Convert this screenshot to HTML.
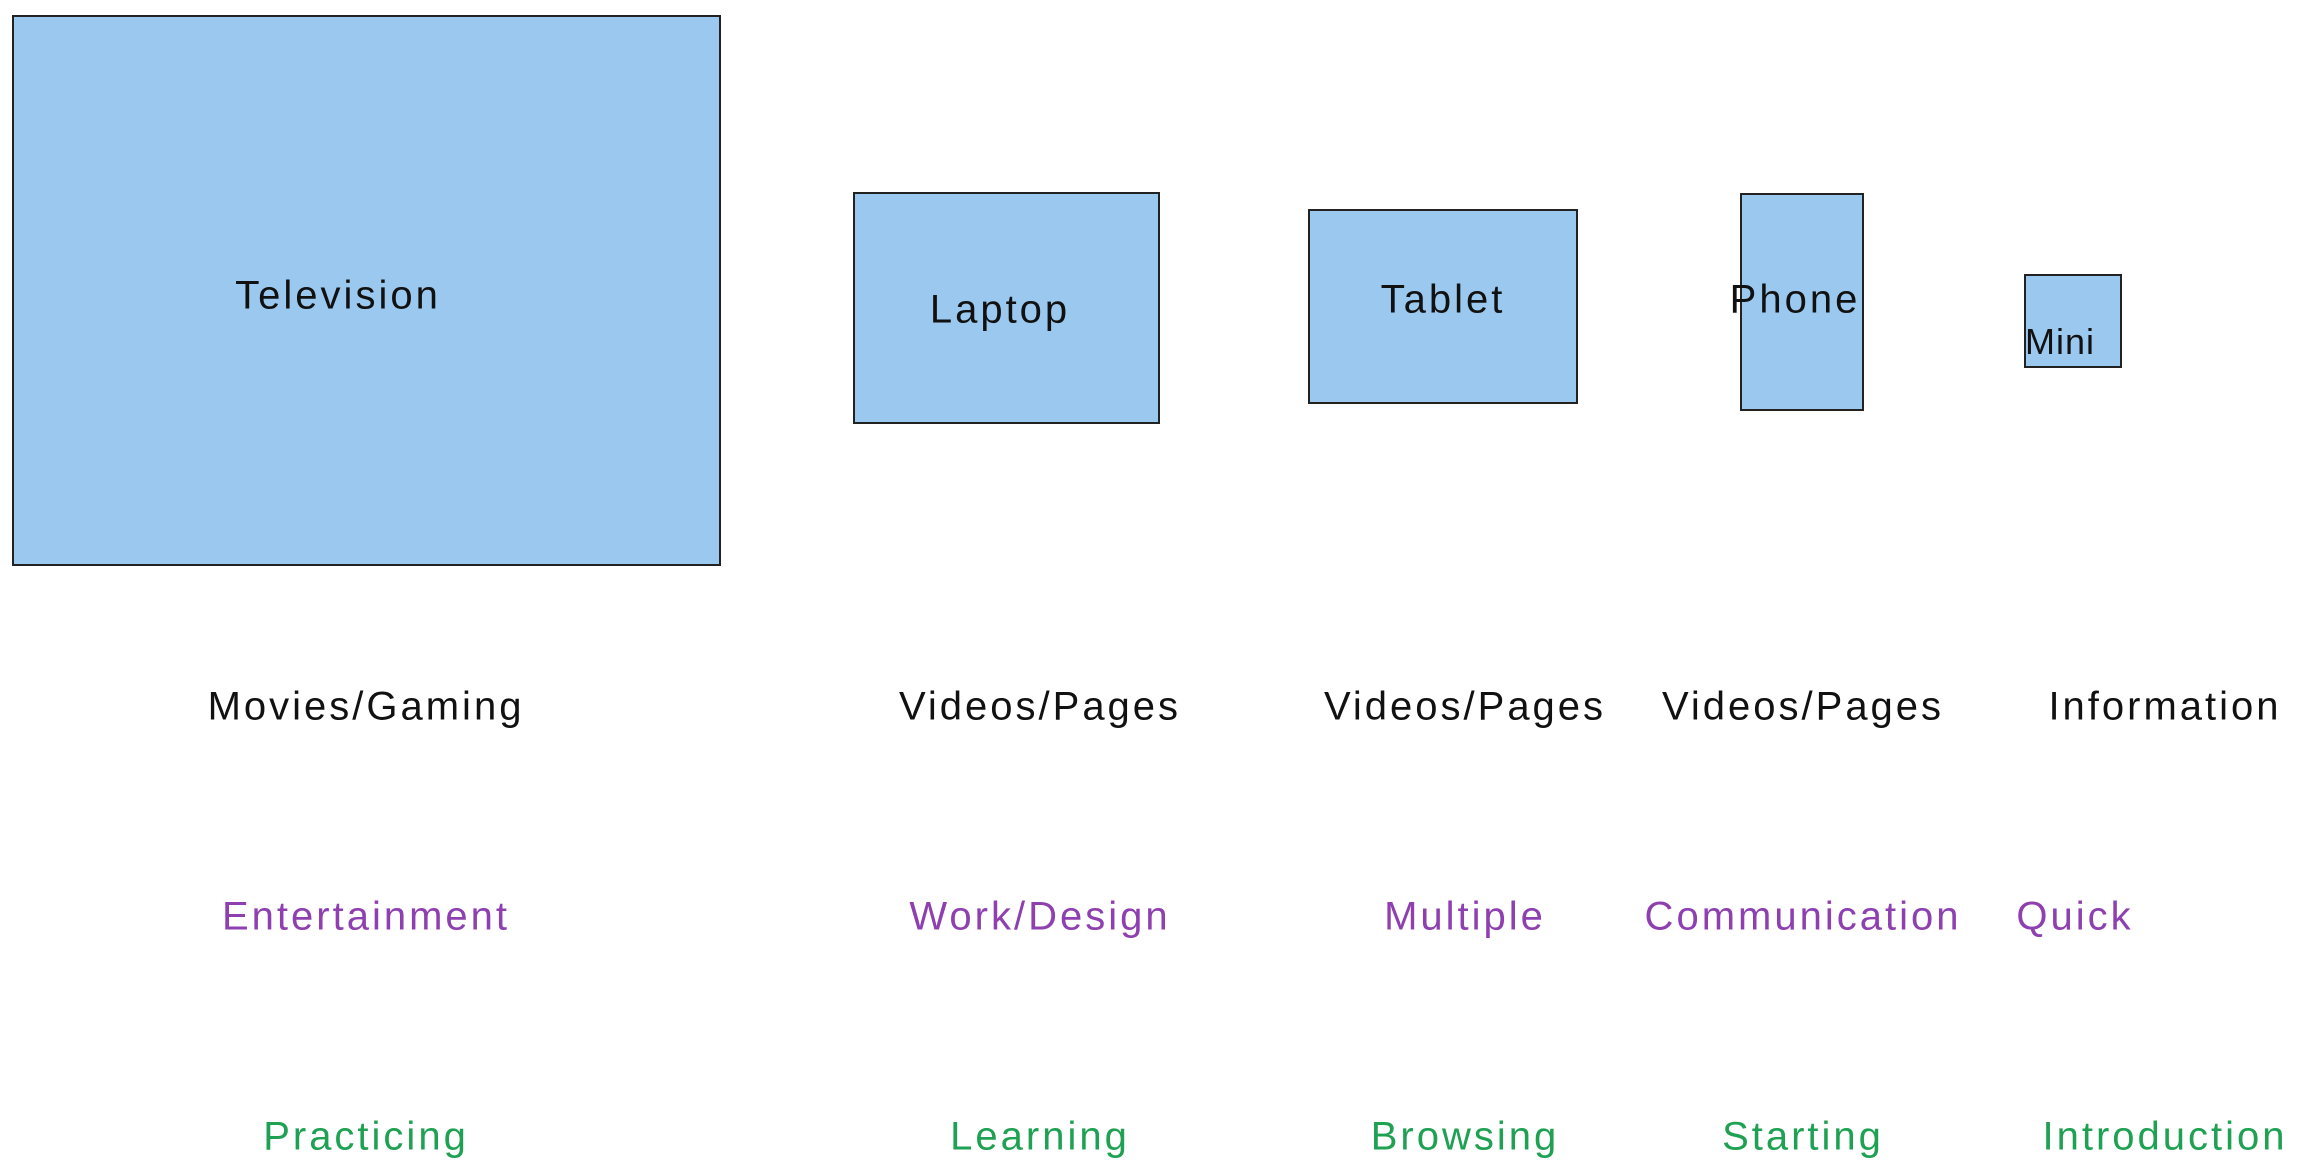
<!DOCTYPE html>
<html><head><meta charset="utf-8"><style>
body{margin:0;width:2313px;height:1156px;background:#fff;position:relative;overflow:hidden;font-family:"Liberation Sans",sans-serif;}
.b{position:absolute;background:#9bc8ee;border:2px solid #222;box-sizing:border-box;}
.t{position:absolute;font-size:40px;letter-spacing:3px;white-space:nowrap;transform:translate(-50%,-50%);color:#111;}
.p{color:#8e3fb0}.g{color:#1ea152}
</style></head><body>
<div class="b" style="left:12px;top:15px;width:709px;height:551px"></div>
<div class="b" style="left:853px;top:192px;width:307px;height:232px"></div>
<div class="b" style="left:1308px;top:209px;width:270px;height:195px"></div>
<div class="b" style="left:1740px;top:193px;width:124px;height:218px"></div>
<div class="b" style="left:2024px;top:274px;width:98px;height:94px"></div>
<div class="t" style="left:338px;top:296px">Television</div>
<div class="t" style="left:1000px;top:310px">Laptop</div>
<div class="t" style="left:1443px;top:300px">Tablet</div>
<div class="t" style="left:1795px;top:300px">Phone</div>
<div class="t" style="left:2060px;top:342px;font-size:36px;letter-spacing:1px">Mini</div>
<div class="t" style="left:366px;top:707px">Movies/Gaming</div>
<div class="t" style="left:1040px;top:707px">Videos/Pages</div>
<div class="t" style="left:1465px;top:707px">Videos/Pages</div>
<div class="t" style="left:1803px;top:707px">Videos/Pages</div>
<div class="t" style="left:2165px;top:707px">Information</div>
<div class="t p" style="left:366px;top:917px">Entertainment</div>
<div class="t p" style="left:1040px;top:917px">Work/Design</div>
<div class="t p" style="left:1465px;top:917px">Multiple</div>
<div class="t p" style="left:1803px;top:917px">Communication</div>
<div class="t p" style="left:2075px;top:917px">Quick</div>
<div class="t g" style="left:366px;top:1137px">Practicing</div>
<div class="t g" style="left:1040px;top:1137px">Learning</div>
<div class="t g" style="left:1465px;top:1137px">Browsing</div>
<div class="t g" style="left:1803px;top:1137px">Starting</div>
<div class="t g" style="left:2165px;top:1137px">Introduction</div>
</body></html>
